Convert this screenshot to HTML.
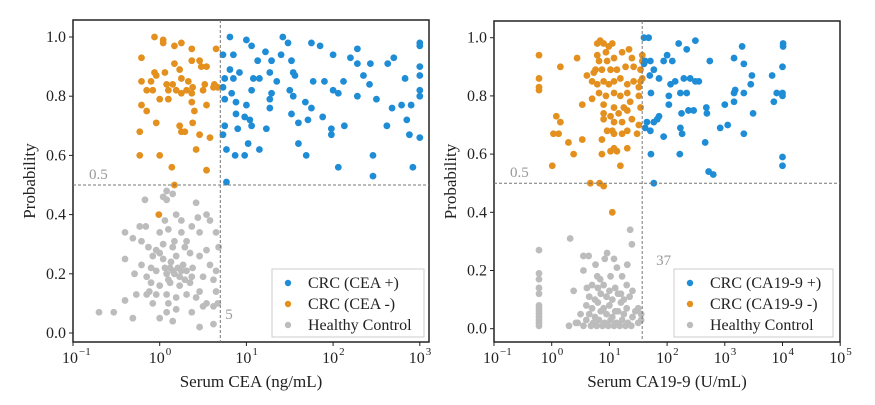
<!DOCTYPE html>
<html><head><meta charset="utf-8"><style>
body{margin:0;background:#fff}
svg text{font-family:"Liberation Serif",serif;fill:#222}
</style></head><body>
<svg id="chart" width="875" height="400" xmlns="http://www.w3.org/2000/svg"></svg>
<script>
// ---- Left panel data (x as log10 of serum CEA, y probability) ----
const ceaPosLogX=[0.81,1.0,1.42,1.48,1.75,1.85,2.28,3,3,0.73,0.85,1.06,1.22,1.4,2,2.7,0.81,1.13,1.29,1.52,1.54,2.2,2.28,2.43,2.63,3,0.92,0.85,0.75,1.08,1.15,1.27,1.35,1.56,1.77,1.9,2.12,2.35,2.42,2.83,3,0.73,0.83,1.06,1.29,1.5,2,2.06,3,3,0.75,0.88,1.27,1.54,2.28,2.5,0.88,1.0,1.27,1.68,1.75,2.68,2.79,2.9,0.9,0.98,1.04,1.06,1.23,1.52,1.6,1.71,1.88,1.98,2.13,2.62,2.85,0.73,0.75,1.98,2.88,3,1.02,1.15,0.77,0.87,0.98,1.6,1.69,2.46,2.06,2.92,2.46,0.77];
const ceaPosY=[1.0,0.99,1.0,0.98,0.98,0.97,0.96,0.98,0.97,0.94,0.94,0.97,0.95,0.94,0.94,0.93,0.89,0.92,0.92,0.92,0.88,0.93,0.91,0.91,0.91,0.90,0.88,0.86,0.86,0.86,0.86,0.88,0.85,0.87,0.85,0.85,0.85,0.87,0.84,0.86,0.87,0.83,0.81,0.82,0.81,0.82,0.82,0.81,0.82,0.80,0.79,0.78,0.79,0.80,0.80,0.79,0.74,0.77,0.76,0.78,0.76,0.76,0.77,0.77,0.69,0.73,0.72,0.70,0.69,0.74,0.71,0.72,0.73,0.69,0.70,0.70,0.72,0.67,0.70,0.67,0.67,0.66,0.64,0.62,0.62,0.60,0.60,0.64,0.60,0.60,0.56,0.56,0.53,0.51];
const ceaNegLogX=[-0.06,0.04,0.04,0.17,0.25,0.37,0.65,-0.21,-0.06,0.06,0.17,0.23,0.37,0.46,0.48,0.54,-0.21,-0.1,-0.04,0.08,0.15,0.25,0.33,0.38,0.52,0.63,0.67,-0.15,-0.08,0.1,0.19,0.25,0.31,0.37,0.5,0.62,0,0.1,-0.21,-0.15,0.37,0.4,0.54,-0.04,0.38,0.23,0.25,0.29,0.46,-0.23,0.58,0.42,-0.23,0,0.14,0.54,0.17,-0.01];
const ceaNegY=[1.0,0.99,0.98,0.97,0.98,0.96,0.96,0.93,0.88,0.88,0.91,0.89,0.92,0.92,0.90,0.90,0.85,0.85,0.87,0.84,0.84,0.86,0.85,0.83,0.84,0.84,0.83,0.82,0.82,0.82,0.82,0.81,0.82,0.81,0.82,0.83,0.79,0.79,0.77,0.75,0.78,0.75,0.77,0.71,0.71,0.70,0.68,0.68,0.67,0.68,0.66,0.62,0.60,0.60,0.56,0.55,0.50,0.40];
const ceaHcLogX=[-0.7,-0.53,-0.4,-0.4,-0.4,-0.31,-0.31,-0.29,-0.27,-0.23,-0.17,-0.16,-0.21,-0.13,-0.21,-0.15,-0.12,-0.08,0.04,0.08,0.15,0.06,0.19,0,0.1,0.25,0.37,0.42,0.54,0.58,0.65,0.68,0.46,0.31,0.15,-0.04,0.04,0.12,0.19,0.27,0.35,0.46,0.58,-0.04,0.08,0.15,0.23,0.31,0.38,0.5,0.62,-0.1,0,0.12,0.23,0.35,0.46,0.65,-0.15,-0.04,0.08,0.19,0.31,0.42,0.54,0.1,0.19,0.37,0.5,0.62,0,0.08,0.15,0.46,0.62,0.67,0.65,0,-0.1,0.17,0.25,0.44,0.08,0.29,0.54,0.04,-0.08,0.13,0.21,0.17,0.25,0.1,0.29,0.06,0.37];
const ceaHcY=[0.07,0.07,0.34,0.25,0.11,0.05,0.32,0.20,0.13,0.36,0.45,0.36,0.31,0.29,0.23,0.19,0.14,0.10,0.46,0.48,0.47,0.38,0.40,0.34,0.35,0.38,0.36,0.44,0.40,0.38,0.34,0.29,0.34,0.31,0.29,0.28,0.25,0.22,0.26,0.23,0.27,0.26,0.23,0.21,0.20,0.21,0.19,0.21,0.22,0.19,0.18,0.17,0.16,0.17,0.16,0.17,0.14,0.14,0.13,0.13,0.13,0.12,0.13,0.12,0.10,0.10,0.08,0.07,0.09,0.09,0.05,0.07,0.04,0.02,0.03,0.10,0.21,0.27,0.22,0.31,0.34,0.39,0.45,0.29,0.28,0.30,0.26,0.24,0.22,0.20,0.21,0.18,0.18,0.22,0.19];
// ---- Right panel data (x as log10 of serum CA19-9) ----
const caPosLogX=[1.6,1.68,2.2,2.49,2.34,3.3,4.01,4.01,1.62,1.71,1.6,2.0,1.94,2.09,2.74,3.16,3.33,1.77,1.7,1.86,2.06,2.14,2.29,2.4,2.49,2.55,3.45,3.47,3.82,1.72,2.03,2.23,2.34,3.18,3.16,3.33,3.85,4.0,3.9,4.0,2.03,2.25,2.37,2.46,2.68,2.69,3.0,3.16,3.49,1.65,1.77,1.83,1.86,1.62,1.71,2.23,2.26,2.92,3.05,3.33,1.94,2.66,1.72,2.22,4.0,4.0,2.72,2.8,1.77,4.0];
const caPosY=[1.0,1.0,0.98,0.99,0.96,0.97,0.98,0.97,0.92,0.92,0.91,0.94,0.92,0.92,0.92,0.93,0.91,0.89,0.87,0.86,0.84,0.85,0.86,0.86,0.85,0.85,0.84,0.87,0.87,0.81,0.80,0.81,0.81,0.82,0.81,0.81,0.78,0.81,0.81,0.80,0.77,0.74,0.75,0.75,0.76,0.74,0.77,0.78,0.74,0.71,0.71,0.72,0.73,0.69,0.68,0.69,0.67,0.69,0.70,0.67,0.66,0.64,0.60,0.60,0.59,0.56,0.54,0.53,0.50,0.90];
const caNegLogX=[-0.22,-0.22,-0.22,-0.22,0.15,0.44,0.08,0.15,0.03,0.12,0.29,0.38,0.53,0.01,0.67,0.83,0.9,1.05,0.53,0.61,0.7,0.73,0.79,0.84,0.9,0.99,1.05,0.79,0.94,0.82,0.96,1.08,1.22,1.34,1.39,0.76,0.87,1.02,1.13,1.28,1.42,1.54,1.57,0.79,0.9,0.99,1.08,1.19,1.31,1.42,1.51,1.57,0.82,0.94,1.08,1.19,1.31,1.51,0.7,0.9,1.08,1.25,1.36,1.54,0.9,1.02,1.16,1.31,0.9,1.08,1.22,1.39,1.05,0.96,1.22,1.08,1.31,1.48,1.51,0.87,1.31,1.08,1.02,1.13,0.87,1.19,1.57,1.54];
const caNegY=[0.94,0.86,0.83,0.82,0.90,0.93,0.73,0.71,0.67,0.67,0.64,0.60,0.65,0.56,0.50,0.50,0.49,0.40,0.77,0.87,0.85,0.88,0.98,0.99,0.98,0.97,0.98,0.94,0.95,0.92,0.92,0.93,0.95,0.96,0.93,0.89,0.89,0.89,0.89,0.90,0.90,0.89,0.92,0.84,0.85,0.84,0.85,0.86,0.84,0.85,0.83,0.86,0.81,0.80,0.81,0.80,0.81,0.80,0.79,0.77,0.76,0.76,0.78,0.76,0.74,0.73,0.74,0.75,0.72,0.71,0.71,0.72,0.68,0.68,0.67,0.67,0.68,0.67,0.70,0.65,0.62,0.62,0.61,0.61,0.60,0.56,0.94,0.85];
const caHcLogX=[-0.22,-0.22,-0.22,-0.22,-0.22,-0.22,-0.22,-0.22,-0.22,-0.22,-0.22,-0.22,-0.22,0.32,1.36,1.39,0.55,0.64,0.96,1.08,0.92,1.13,1.31,0.55,0.76,0.79,0.84,1.02,1.22,0.38,0.61,0.7,0.8,0.9,1.0,1.1,1.2,1.3,1.4,0.65,0.75,0.85,0.95,1.05,1.15,1.25,1.35,1.5,0.6,0.7,0.8,0.9,1.0,1.1,1.2,1.3,1.45,0.5,0.65,0.75,0.85,0.95,1.05,1.15,1.25,1.4,1.55,0.45,0.6,0.72,0.82,0.92,1.02,1.12,1.22,1.32,1.5,0.3,0.55,0.68,0.78,0.88,0.98,1.08,1.18,1.28,1.38,1.55,0.42];
const caHcY=[0.27,0.19,0.17,0.14,0.12,0.08,0.07,0.06,0.05,0.04,0.03,0.02,0.01,0.31,0.34,0.29,0.25,0.25,0.26,0.24,0.24,0.21,0.22,0.20,0.22,0.18,0.17,0.18,0.18,0.13,0.14,0.15,0.14,0.15,0.13,0.14,0.12,0.15,0.13,0.11,0.10,0.12,0.11,0.10,0.12,0.10,0.11,0.07,0.08,0.07,0.09,0.07,0.08,0.06,0.09,0.07,0.06,0.05,0.05,0.04,0.06,0.05,0.04,0.06,0.05,0.04,0.05,0.02,0.03,0.02,0.03,0.02,0.03,0.02,0.03,0.02,0.02,0.01,0.01,0.01,0.01,0.01,0.01,0.01,0.01,0.01,0.01,0.03,0.02];
const yTicks=["0.0","0.2","0.4","0.6","0.8","1.0"];

const NS="http://www.w3.org/2000/svg";
const svg=document.getElementById('chart');
function el(tag,attrs,parent,text){const e=document.createElementNS(NS,tag);for(const k in attrs)e.setAttribute(k,attrs[k]);if(text!==undefined)e.textContent=text;(parent||svg).appendChild(e);return e;}
const BLUE="#1f8cd6",ORANGE="#e3901f",GRAY="#bcbcbc";

function panel(cfg){
  const g=el('g',{});
  
  
  const xs=v=>cfg.x0+(v-cfg.minExp)*cfg.dec; // v is log10
  const ys=p=>cfg.yZero-p*cfg.yUnit;
  const fr=el('rect',{x:cfg.L,y:cfg.T,width:cfg.R-cfg.L,height:cfg.B-cfg.T,fill:'none',stroke:'#222','stroke-width':1.5},g);
  
  
  yTicks.forEach(t=>{const y=ys(parseFloat(t));
    el('line',{x1:cfg.L-4,x2:cfg.L,y1:y,y2:y,stroke:'#222'},g);
    const tx=el('text',{x:cfg.L-7,y:y+5,'text-anchor':'end','font-size':16},g,t);
    
    
  });
  for(let e=cfg.minExp;e<=cfg.maxExp;e++){const x=xs(e);
    el('line',{x1:x,x2:x,y1:cfg.B,y2:cfg.B+4,stroke:'#222'},g);
    const tx=el('text',{x:x-3,y:cfg.B+21,'text-anchor':'middle','font-size':16},g,'10');
    
    
    el('text',{x:x+6,y:cfg.B+13,'font-size':11},g,e<0?'\u2212'+(-e):String(e));
  }
  const series=[[cfg.hcX,cfg.hcY,GRAY,'healthy-point'],[cfg.negX,cfg.negY,ORANGE,'negative-point'],[cfg.posX,cfg.posY,BLUE,'positive-point']];
  series.forEach(s=>{s[0].forEach((v,i)=>{
    const c=el('circle',{cx:xs(v),cy:ys(s[1][i]),r:3.4,fill:s[2]},g);
    
    
  });});
  const hy=ys(0.5),vx=xs(Math.log10(cfg.cut));
  const hl=el('line',{x1:cfg.L,x2:cfg.R,y1:hy,y2:hy,stroke:'#777','stroke-dasharray':'3,2','stroke-width':1},g);
  
  
  const vl=el('line',{x1:vx,x2:vx,y1:cfg.T,y2:cfg.B,stroke:'#777','stroke-dasharray':'3,2','stroke-width':1},g);
  
  
  const t1=el('text',{x:cfg.L+16,y:hy-6,'font-size':15,style:'fill:#999'},g,'0.5');
  
  
  const t2=el('text',{x:vx+cfg.cutDx,y:cfg.cutY,'font-size':15,style:'fill:#999'},g,String(cfg.cut));
  
  
  const xt=el('text',{x:(cfg.L+cfg.R)/2,y:387,'text-anchor':'middle','font-size':17},g,cfg.xTitle);
  
  
  const yx=cfg.L-38,yy=(cfg.T+cfg.B)/2;
  const yt=el('text',{x:yx,y:yy,'text-anchor':'middle','font-size':17,transform:`rotate(-90 ${yx} ${yy})`},g,'Probability');
  
  
  const lg=el('g',{},g);
  
  
  el('rect',{x:cfg.lgX,y:269,width:cfg.lgW,height:68,fill:'#fff',stroke:'#ccc','stroke-width':1},lg);
  cfg.labels.forEach((lab,i)=>{const yy2=283+i*21;
    const ent=el('g',{},lg);
    
    
    el('circle',{cx:cfg.lgX+16,cy:yy2,r:3.2,fill:[BLUE,ORANGE,GRAY][i]},ent);
    el('text',{x:cfg.lgX+36,y:yy2+5,'font-size':16},ent,lab);
  });
}
panel({name:'cea-panel',L:73,R:429,T:20,B:342,x0:73,minExp:-1,maxExp:3,dec:86.7,yZero:333,yUnit:296,
  posX:ceaPosLogX,posY:ceaPosY,negX:ceaNegLogX,negY:ceaNegY,hcX:ceaHcLogX,hcY:ceaHcY,cut:5,cutDx:5,cutY:319,
  xTitle:'Serum CEA (ng/mL)',lgX:272,lgW:152,labels:['CRC (CEA +)','CRC (CEA -)','Healthy Control']});
panel({name:'ca199-panel',L:494,R:840,T:21,B:342,x0:494,minExp:-1,maxExp:5,dec:57.7,yZero:328.7,yUnit:291,
  posX:caPosLogX,posY:caPosY,negX:caNegLogX,negY:caNegY,hcX:caHcLogX,hcY:caHcY,cut:37,cutDx:14,cutY:265,
  xTitle:'Serum CA19-9 (U/mL)',lgX:674,lgW:159,labels:['CRC (CA19-9 +)','CRC (CA19-9 -)','Healthy Control']});
</script>
</body></html>
